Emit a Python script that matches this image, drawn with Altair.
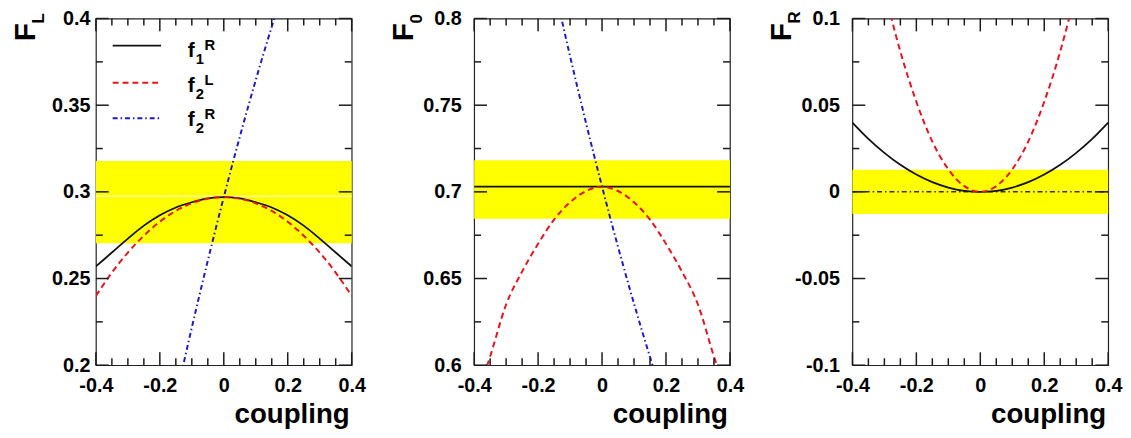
import altair as alt
import pandas as pd

FONT = "Liberation Sans"

# ---------------- data ----------------
coupling = [-0.4, -0.35, -0.3, -0.25, -0.2, -0.15, -0.1, -0.05, 0.0,
            0.05, 0.1, 0.15, 0.2, 0.25, 0.3, 0.35, 0.4]
coupling_f2R = [-0.15, -0.1, -0.05, 0.0, 0.05, 0.1, 0.15, 0.2]

# F_L panel
FL_f1R = [0.257, 0.265, 0.273, 0.2805, 0.2865, 0.291, 0.294, 0.2962, 0.297,
          0.2962, 0.294, 0.291, 0.2865, 0.2805, 0.273, 0.265, 0.257]
FL_f2L = [0.240, 0.2534, 0.265, 0.2747, 0.2828, 0.289, 0.2934, 0.2961, 0.297,
          0.2961, 0.2934, 0.289, 0.2828, 0.2747, 0.265, 0.2534, 0.240]
FL_f2R = [0.181, 0.2217, 0.2603, 0.297, 0.3317, 0.3645, 0.3953, 0.4241]

# F_0 panel
F0_f1R = [0.703, 0.703, 0.703, 0.703, 0.703, 0.703, 0.703, 0.703, 0.703,
          0.703, 0.703, 0.703, 0.703, 0.703, 0.703, 0.703, 0.703]
F0_f2L = [0.578, 0.605, 0.635, 0.654, 0.670, 0.684, 0.694, 0.7005, 0.703,
          0.7005, 0.694, 0.684, 0.670, 0.654, 0.635, 0.605, 0.578]
F0_f2R = [0.819, 0.7783, 0.7397, 0.703, 0.6683, 0.6355, 0.6047, 0.5759]

# F_R panel
FR_f1R = [0.040, 0.0306, 0.0225, 0.0156, 0.010, 0.0056, 0.0025, 0.0006, 0.0,
          0.0006, 0.0025, 0.0056, 0.010, 0.0156, 0.0225, 0.0306, 0.040]
FR_f2L = [0.208, 0.159, 0.117, 0.081, 0.052, 0.029, 0.013, 0.0033, 0.0,
          0.0033, 0.013, 0.029, 0.052, 0.081, 0.117, 0.159, 0.208]
FR_f2R = [0.0, 0.0, 0.0, 0.0, 0.0, 0.0, 0.0, 0.0, 0.0,
          0.0, 0.0, 0.0, 0.0, 0.0, 0.0, 0.0, 0.0]

# measured bands (yellow) and central value line in F_L
band_lo = [0.2703, 0.6845, -0.0128]
band_hi = [0.3178, 0.7183, 0.0127]
FL_central = [0.2975]

# axes (major + minor tick values)
x_domain = [-0.4, 0.4]
x_major = [-0.4, -0.2, 0.0, 0.2, 0.4]
x_minor = [-0.35, -0.3, -0.25, -0.15, -0.1, -0.05, 0.05, 0.1, 0.15, 0.25, 0.3, 0.35]
y_domains = [[0.2, 0.4], [0.6, 0.8], [-0.1, 0.1]]
y_major = [[0.2, 0.25, 0.3, 0.35, 0.4],
           [0.6, 0.65, 0.7, 0.75, 0.8],
           [-0.1, -0.05, 0.0, 0.05, 0.1]]
y_minor = [[0.225, 0.275, 0.325, 0.375],
           [0.625, 0.675, 0.725, 0.775],
           [-0.075, -0.025, 0.025, 0.075]]
titles = [("F", "L"), ("F", "0"), ("F", "R")]
x_title = "coupling"

legend_names = [("f", "1", "R"), ("f", "2", "L"), ("f", "2", "R")]

# ---------------- styles ----------------
W, H = 259, 351
BLACK = "#111111"
RED = "#e8141c"
BLUE = "#1a1acc"
DASHDOT0 = "#30305e"
YELLOW = "#ffff00"
FRAME = "#222222"
TICK = "#1a1a1a"
MAJ, MIN = 13, 7   # inward tick lengths in pixels
styles = {
    "f1R": dict(color=BLACK, strokeWidth=1.8),
    "f2L": dict(color=RED, strokeWidth=2, strokeDash=[6, 4]),
    "f2R": dict(color=BLUE, strokeWidth=2, strokeDash=[5, 3, 1.5, 3]),
}
FMT = "replace(format(datum.value, '.2~f'), '\u2212', '-')"
one = alt.Data(values=[{}])


def make_axis(values, pad):
    return alt.Axis(
        values=values, labelExpr=FMT,
        ticks=False, tickSize=0, domain=False, grid=False,
        labelFlush=False, labelOverlap=False, labelBound=False,
        labelFont=FONT, labelFontSize=20, labelFontWeight="bold",
        labelColor="black", labelPadding=pad, title=None)


def make_panel(i, series, ylabel_pad):
    ydom = y_domains[i]
    xs = alt.Scale(domain=x_domain, nice=False, zero=False)
    ys = alt.Scale(domain=ydom, nice=False, zero=False)
    xaxis = make_axis(x_major, 11)
    yaxis = make_axis(y_major[i], ylabel_pad)

    def X(f):
        return alt.X(f, type="quantitative", scale=xs, axis=xaxis)

    def Y(f):
        return alt.Y(f, type="quantitative", scale=ys, axis=yaxis)

    layers = []
    band = pd.DataFrame({"x1": [x_domain[0]], "x2": [x_domain[1]],
                         "lo": [band_lo[i]], "hi": [band_hi[i]]})
    layers.append(alt.Chart(band).mark_rect(color=YELLOW).encode(
        x=X("x1"), x2="x2", y=Y("lo"), y2="hi"))
    if i == 0:
        cdf = pd.DataFrame({"y": FL_central, "x1": [x_domain[0]], "x2": [x_domain[1]]})
        layers.append(alt.Chart(cdf).mark_rule(color="white", strokeWidth=1, opacity=0.9).encode(
            y=Y("y"), x=X("x1"), x2="x2"))

    for key, xv, yv in series:
        df = pd.DataFrame({"x": xv, "y": yv})
        st = dict(styles[key])
        if i == 2 and key == "f2R":
            st["color"] = DASHDOT0
            st["strokeWidth"] = 1.5
        layers.append(alt.Chart(df).mark_line(clip=True, interpolate="monotone", **st).encode(
            x=X("x"), y=Y("y")))

    # inward ticks on the four frame sides (axis decoration, placed in pixels)
    def xpix(v):
        return (v - x_domain[0]) / (x_domain[1] - x_domain[0]) * W

    def ypix(v):
        return (ydom[1] - v) / (ydom[1] - ydom[0]) * H

    for vals, L in ((x_major, MAJ), (x_minor, MIN)):
        for v in vals:
            px = xpix(v)
            layers.append(alt.Chart(one).mark_rule(color=TICK, strokeWidth=1.5).encode(
                x=alt.value(px), y=alt.value(H), y2=alt.value(H - L)))
            layers.append(alt.Chart(one).mark_rule(color=TICK, strokeWidth=1.5).encode(
                x=alt.value(px), y=alt.value(0), y2=alt.value(L)))
    for vals, L in ((y_major[i], MAJ), (y_minor[i], MIN)):
        for v in vals:
            py = ypix(v)
            layers.append(alt.Chart(one).mark_rule(color=TICK, strokeWidth=1.5).encode(
                y=alt.value(py), x=alt.value(0), x2=alt.value(L)))
            layers.append(alt.Chart(one).mark_rule(color=TICK, strokeWidth=1.5).encode(
                y=alt.value(py), x=alt.value(W), x2=alt.value(W - L)))

    # y title: big F with subscript, rotated
    big, sub = titles[i]
    layers.append(alt.Chart(one).mark_text(
        text=big, angle=270, align="left", baseline="alphabetic", font=FONT,
        fontSize=30, fontWeight="bold", color="black").encode(
        x=alt.value(-62), y=alt.value(23)))
    layers.append(alt.Chart(one).mark_text(
        text=sub, angle=270, align="left", baseline="alphabetic", font=FONT,
        fontSize=17, fontWeight="bold", color="black").encode(
        x=alt.value(-53), y=alt.value(5)))

    # x title
    layers.append(alt.Chart(one).mark_text(
        text=x_title, align="right", baseline="alphabetic", font=FONT,
        fontSize=28, fontWeight="bold", color="black").encode(
        x=alt.value(W - 2), y=alt.value(410)))

    # legend in first panel
    if i == 0:
        keys = ["f1R", "f2L", "f2R"]
        line_y = [27.5, 65, 101]
        base_y = [39, 74, 109]
        for k, ly, by, (f, s, p) in zip(keys, line_y, base_y, legend_names):
            st = styles[k]
            layers.append(alt.Chart(one).mark_rule(**st).encode(
                x=alt.value(17), x2=alt.value(66), y=alt.value(ly)))
            layers.append(alt.Chart(one).mark_text(
                text=f, align="left", baseline="alphabetic", font=FONT,
                fontSize=21, fontWeight="bold", color="black").encode(
                x=alt.value(93), y=alt.value(by)))
            layers.append(alt.Chart(one).mark_text(
                text=s, align="left", baseline="alphabetic", font=FONT,
                fontSize=15, fontWeight="bold", color="black").encode(
                x=alt.value(101), y=alt.value(by + 7)))
            layers.append(alt.Chart(one).mark_text(
                text=p, align="left", baseline="alphabetic", font=FONT,
                fontSize=15, fontWeight="bold", color="black").encode(
                x=alt.value(110), y=alt.value(by - 7)))

    return alt.layer(*layers).properties(width=W, height=H)


p1 = make_panel(0, [("f1R", coupling, FL_f1R), ("f2L", coupling, FL_f2L),
                    ("f2R", coupling_f2R, FL_f2R)], 6)
p2 = make_panel(1, [("f1R", coupling, F0_f1R), ("f2L", coupling, F0_f2L),
                    ("f2R", coupling_f2R, F0_f2R)], 13)
p3 = make_panel(2, [("f2R", coupling, FR_f2R), ("f1R", coupling, FR_f1R),
                    ("f2L", coupling, FR_f2L)], 13)

chart = alt.hconcat(p1, p2, p3, spacing=124).properties(
    bounds="flush",
    padding={"left": 2, "top": -3, "right": 0, "bottom": 0},
).configure_view(stroke=FRAME, strokeWidth=1.2)

chart.save("out.html", embed_options={"renderer": "svg", "actions": False})
